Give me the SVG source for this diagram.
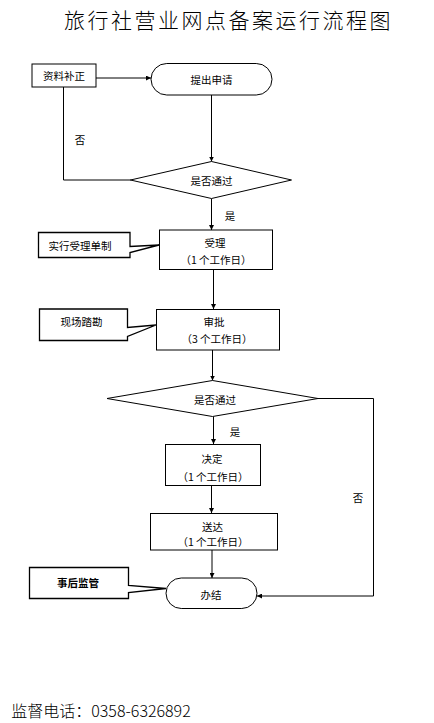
<svg xmlns="http://www.w3.org/2000/svg" width="434" height="723" viewBox="0 0 434 723">
<style>
text{font-family:"Noto Sans CJK SC","Noto Sans",sans-serif;fill:#000;text-anchor:middle;dominant-baseline:central}
.n{font-size:10.5px}
.t{font-size:21px;letter-spacing:2.5px;font-weight:300}
.box{fill:#fff;stroke:#000;stroke-width:1}
.co{fill:#fff;stroke:#000;stroke-width:1.3}
.ln{fill:none;stroke:#000;stroke-width:1}
</style>
<defs>
<marker id="ah" viewBox="0 0 10 10" refX="10" refY="5" markerWidth="5" markerHeight="5" orient="auto" markerUnits="userSpaceOnUse"><path d="M0,0 L10,5 L0,10 Z" fill="#000"/></marker>
</defs>
<rect width="434" height="723" fill="#fff"/>
<text class="t" x="228.5" y="18.5">旅行社营业网点备案运行流程图</text>

<g id="connectors">
<path class="ln" d="M96,78 H151" marker-end="url(#ah)"/>
<path class="ln" d="M63.5,87 V180 H131"/>
<path class="ln" d="M211.5,95 V161.5" marker-end="url(#ah)"/>
<path class="ln" d="M211.5,198.5 V230" marker-end="url(#ah)"/>
<path class="ln" d="M213.5,269 V309" marker-end="url(#ah)"/>
<path class="ln" d="M212.5,350 V380.5" marker-end="url(#ah)"/>
<path class="ln" d="M318,398.5 H373.5 V596 H257" marker-end="url(#ah)"/>
<path class="ln" d="M213.5,416.5 V444" marker-end="url(#ah)"/>
<path class="ln" d="M211.5,485 V513" marker-end="url(#ah)"/>
<path class="ln" d="M212,550 V578" marker-end="url(#ah)"/>
<text class="n" x="80" y="139">否</text>
<text class="n" x="230" y="215">是</text>
<text class="n" x="235" y="431">是</text>
<text class="n" x="358" y="497">否</text>
</g>

<g id="n_bz">
<rect class="box" x="32" y="64" width="64" height="23"/>
<text class="n" x="64" y="75.5">资料补正</text>
</g>
<g id="n_tc">
<rect class="box" x="151" y="63.5" width="121" height="31.5" rx="15.75"/>
<text class="n" x="211.5" y="79">提出申请</text>
</g>
<g id="n_d1">
<polygon class="box" points="130.5,180 211.5,161.5 291.5,180 211.5,198.5"/>
<text class="n" x="211.5" y="180.5">是否通过</text>
</g>
<g id="n_sl">
<rect class="box" x="159.5" y="230" width="113" height="39.5"/>
<text class="n" x="215" y="242">受理</text>
<text class="n" x="216" y="259">（1 个工作日）</text>
</g>
<g id="c_sl">
<path class="co" d="M38.5,232.5 H130 V246.5 L159,245 L130,252.5 V257.5 H38.5 Z"/>
<text class="n" x="80" y="245">实行受理单制</text>
</g>
<g id="n_sp">
<rect class="box" x="156.5" y="309.5" width="123" height="40.5"/>
<text class="n" x="214" y="321">审批</text>
<text class="n" x="217" y="338">（3 个工作日）</text>
</g>
<g id="c_sp">
<path class="co" d="M39.5,309 H127.5 V327.5 L156,325 L127.5,336.5 V340.5 H39.5 Z"/>
<text class="n" x="81.5" y="321.5">现场踏勘</text>
</g>
<g id="n_d2">
<polygon class="box" points="107,398.5 212.5,380.5 318,398.5 212.5,416.5"/>
<text class="n" x="215" y="399.5">是否通过</text>
</g>
<g id="n_jd">
<rect class="box" x="165.5" y="444.5" width="95" height="41"/>
<text class="n" x="212" y="458">决定</text>
<text class="n" x="213" y="476.5">（1 个工作日）</text>
</g>
<g id="n_sd">
<rect class="box" x="150.5" y="513.5" width="127" height="36.5"/>
<text class="n" x="212.5" y="526">送达</text>
<text class="n" x="213" y="541.5">（1 个工作日）</text>
</g>
<g id="n_bj">
<rect class="box" x="166" y="578" width="91" height="30.5" rx="15.25"/>
<text class="n" x="211" y="594">办结</text>
</g>
<g id="c_bj">
<path class="co" d="M29.5,567.5 H128.5 V585.5 L166,588.5 L128.5,592.5 V598.5 H29.5 Z"/>
<text class="n" x="78" y="582" font-weight="600">事后监管</text>
</g>
<text x="101" y="710" style="font-size:16px;font-weight:300">监督电话：0358-6326892</text>
</svg>
